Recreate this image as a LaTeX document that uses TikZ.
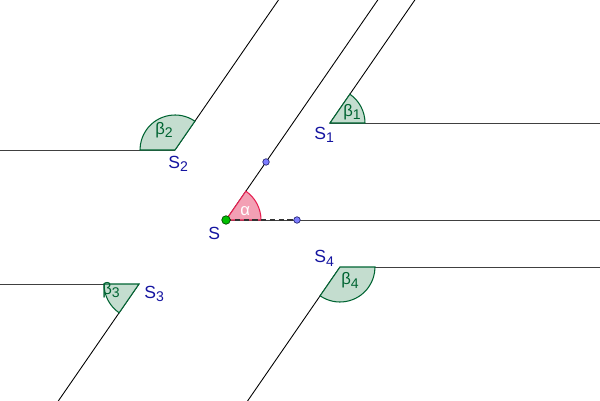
\documentclass[tikz,border=0pt]{standalone}
\usepackage{fontspec}
\setmainfont{Liberation Sans}
\usepackage{tikz}
\usetikzlibrary{calc}
\definecolor{betaline}{RGB}{0,100,50}
\definecolor{betafill}{RGB}{196,221,207}
\definecolor{alphaline}{RGB}{230,30,80}
\definecolor{alphafill}{RGB}{243,160,180}
\definecolor{labelblue}{RGB}{20,20,160}
\definecolor{pointfill}{RGB}{125,125,255}
\definecolor{pointline}{RGB}{40,40,120}
\newcommand\lowsub[1]{\raisebox{-0.35ex}{\fontsize{8}{9}\selectfont#1}}
\tikzset{
    ray line/.style={
        line width=0.5pt,
        black,
    },
    beta angle/.style={
        draw=betaline,
        fill=betafill,
        line width=0.6pt,
    },
    alpha angle/.style={
        draw=alphaline,
        fill=alphafill,
        line width=0.6pt,
    },
    vertex label/.style={
        text=labelblue,
        font=\fontsize{10}{12}\selectfont,
        inner sep=0,
        anchor=base west,
    },
    angle label/.style={
        text=betaline,
        font=\fontsize{9.5}{11}\selectfont,
        inner sep=0,
        anchor=base west,
    },
    free point/.style={
        draw=pointline,
        fill=pointfill,
        circle,
        line width=0.4pt,
        minimum size=1.3mm,
        inner sep=0,
    },
    start point/.style={
        free point,
        draw=black!70!green,
        fill=green!75!black,
        minimum size=1.7mm,
    },
}

\begin{document}
\begin{tikzpicture}[x=0.02cm, y=0.02cm]

    \useasboundingbox (0,0) rectangle (600,400);
    \clip (0,0) rectangle (600,400);

    \newcommand\RayAngle{55.4}
    \newcommand\ArcRad{35}

    \coordinate (s) at (226,180);
    \coordinate (s1) at (330,277);
    \coordinate (s2) at (175,250);
    \coordinate (s3) at (139,116);
    \coordinate (s4) at (340,133);

    \foreach \p in {s1,s2}
    {
        \draw[ray line] (\p) -- ++(\RayAngle:300);
    }
    \foreach \p in {s3,s4}
    {
        \draw[ray line] (\p) -- ++(\RayAngle+180:300);
    }
    \draw[ray line] (s) -- ++(\RayAngle:300);
    \draw[ray line, black!75] (s) -- ++(600,0);
    \draw[ray line, black!75] (s1) -- ++(600,0);
    \draw[ray line, black!75] (s4) -- ++(600,0);
    \draw[ray line, black!75] (s2) -- ++(-600,0);
    \draw[ray line, black!75] (s3) -- ++(-600,0);

    \foreach \p/\a/\b in {s1/0/\RayAngle, s2/\RayAngle/180, s3/180/235.4, s4/235.4/360}
    {
        \draw[beta angle] (\p) -- ++(\a:\ArcRad) arc[start angle=\a, end angle=\b, radius=\ArcRad] -- cycle;
    }
    \draw[alpha angle] (s) -- ++(0:\ArcRad) arc[start angle=0, end angle=\RayAngle, radius=\ArcRad] -- cycle;

    \draw[dashed, black!80, line width=0.8pt, dash pattern=on 3pt off 2pt] (s) -- ($(s)+(71,0)$);

    \node[angle label] (b1) at (343,284) {β\lowsub{1}};
    \node[angle label] (b2) at (155,266) {β\lowsub{2}};
    \node[angle label] (b3) at (102,106) {β\lowsub{3}};
    \node[angle label] (b4) at (341,115) {β\lowsub{4}};
    \node[angle label, text=white] (al) at (240,185) {α};

    \node[vertex label] (ls) at (208,161) {S};
    \node[vertex label] (ls1) at (314,261) {S\lowsub{1}};
    \node[vertex label] (ls2) at (168,232) {S\lowsub{2}};
    \node[vertex label] (ls3) at (144,102) {S\lowsub{3}};
    \node[vertex label] (ls4) at (314,137) {S\lowsub{4}};

    \node[free point] (p) at ($(s)+(\RayAngle:70.5)$) {};
    \node[free point] (q) at ($(s)+(71,0)$) {};
    \node[start point] (sp) at (s) {};

\end{tikzpicture}
\end{document}
